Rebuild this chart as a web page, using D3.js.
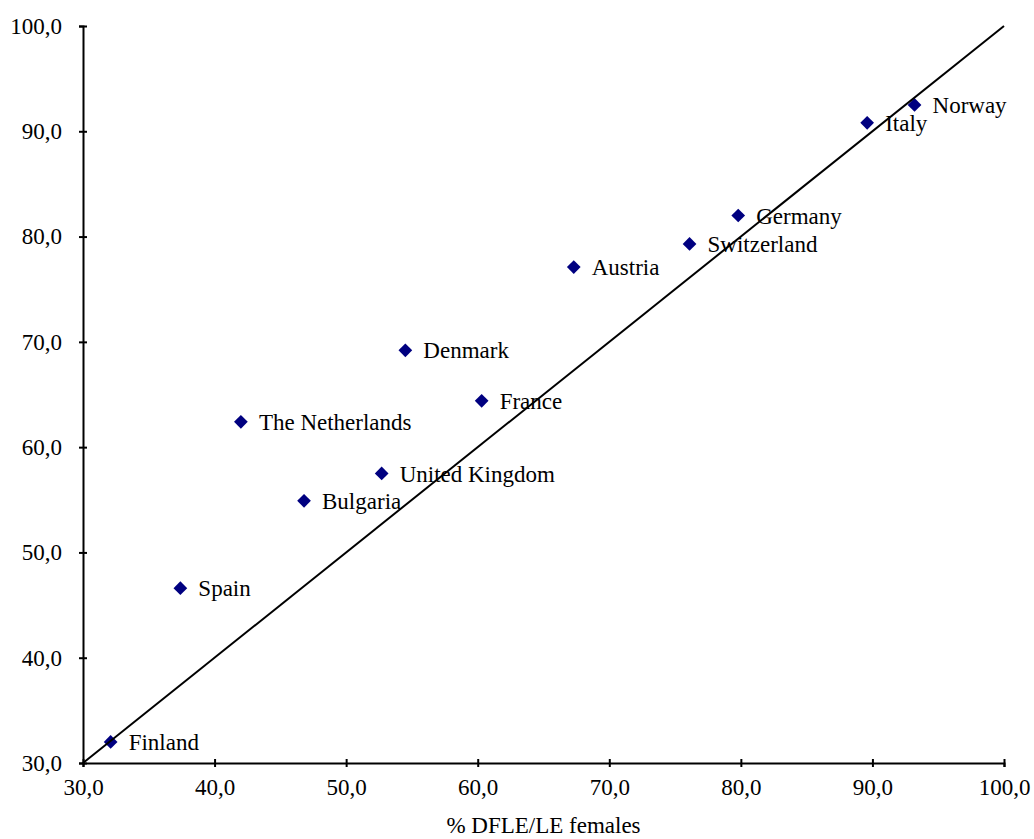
<!DOCTYPE html>
<html>
<head>
<meta charset="utf-8">
<script src="https://cdn.jsdelivr.net/npm/d3@7"></script>
<style>
  body { margin: 0; background: #fff; }
  text { font-family: "Liberation Serif", "Times New Roman", serif; }
</style>
</head>
<body>
<svg width="1034" height="839"></svg>
<script>
// Data: % DFLE/LE, females (x) vs y
const countries = ["Norway", "Italy", "Germany", "Switzerland", "Austria", "Denmark",
                   "France", "The Netherlands", "United Kingdom", "Bulgaria", "Spain", "Finland"];
const xValues = [93.2, 89.6, 79.8, 76.1, 67.3, 54.5, 60.3, 42.0, 52.7, 46.8, 37.4, 32.1];
const yValues = [92.5, 90.8, 82.0, 79.3, 77.1, 69.2, 64.4, 62.4, 57.5, 54.9, 46.6, 32.0];
const ticks = [30, 40, 50, 60, 70, 80, 90, 100];
const xTitle = "% DFLE/LE females";

const svg = d3.select("svg");
const margin = { top: 26, right: 30, bottom: 76, left: 83 };
const width = +svg.attr("width");
const height = +svg.attr("height");
const fontSize = 23;

const xScale = d3.scaleLinear().domain([30, 100]).range([margin.left, width - margin.right]);
const yScale = d3.scaleLinear().domain([30, 100]).range([height - margin.bottom, margin.top]);
const fmt = d => d3.format(".1f")(d).replace(".", ",");

// X axis
const xAxis = svg.append("g")
  .attr("transform", `translate(0,${yScale(30)})`)
  .call(d3.axisBottom(xScale).tickValues(ticks).tickFormat(fmt).tickSize(4).tickPadding(12));
xAxis.selectAll(".tick line").attr("y1", -4).attr("y2", 4);

// Y axis
const yAxis = svg.append("g")
  .attr("transform", `translate(${xScale(30)},0)`)
  .call(d3.axisLeft(yScale).tickValues(ticks).tickFormat(fmt).tickSize(4).tickPadding(17));
yAxis.selectAll(".tick line").attr("x1", -4).attr("x2", 4);

svg.selectAll(".domain, .tick line").attr("stroke", "#000").attr("stroke-width", 2);
svg.selectAll("g").attr("font-size", fontSize).attr("font-family", null);
svg.selectAll(".tick text").attr("fill", "#000");

// Markers
svg.append("g").selectAll("path")
  .data(countries)
  .join("path")
  .attr("d", d3.symbol(d3.symbolDiamond2, 120))
  .attr("transform", (d, i) => `translate(${xScale(xValues[i])},${yScale(yValues[i])})`)
  .attr("fill", "#000080");

// Diagonal reference line
svg.append("line")
  .attr("x1", xScale(30)).attr("y1", yScale(30))
  .attr("x2", xScale(100)).attr("y2", yScale(100))
  .attr("stroke", "#000").attr("stroke-width", 2);

// Labels
svg.append("g").selectAll("text")
  .data(countries)
  .join("text")
  .attr("x", (d, i) => xScale(xValues[i]) + 18)
  .attr("y", (d, i) => yScale(yValues[i]))
  .attr("dy", "0.35em")
  .attr("font-size", fontSize)
  .text(d => d);

// Axis title
svg.append("text")
  .attr("x", (xScale(30) + xScale(100)) / 2)
  .attr("y", height - 6)
  .attr("text-anchor", "middle")
  .attr("font-size", fontSize)
  .text(xTitle);
</script>
</body>
</html>
